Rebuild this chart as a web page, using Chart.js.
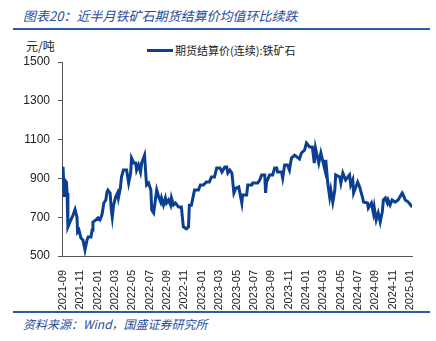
<!DOCTYPE html>
<html><head><meta charset="utf-8">
<script src="https://cdn.jsdelivr.net/npm/chart.js@4"></script>
<style>
html,body{margin:0;padding:0;background:#fff;}
#wrap{position:relative;width:436px;height:341px;overflow:hidden;font-family:"Liberation Sans",Arial,sans-serif;}
.t{position:absolute;white-space:nowrap;}
#title{left:23px;top:6px;font-size:13px;color:#1F4E9A;font-style:italic;font-family:"Noto Sans CJK SC",sans-serif;}
#src{left:23px;top:315px;font-size:12px;color:#1F4E9A;font-style:italic;font-family:"Noto Sans CJK SC",sans-serif;}
.rule{position:absolute;left:13px;width:417px;height:2px;background:#2A5CAA;}
#unit{left:26px;top:37px;font-size:12px;color:#222;font-family:"Noto Sans CJK SC",sans-serif;}
#leg{left:175px;top:42px;font-size:11px;color:#222;font-family:"Noto Sans CJK SC",sans-serif;}
#legline{position:absolute;left:147px;top:49px;width:26px;height:3px;background:#0C3F91;}
canvas{position:absolute;left:0;top:0;}
</style></head>
<body><div id="wrap">
<div class="t" id="title">图表20：近半月铁矿石期货结算价均值环比续跌</div>
<div class="rule" style="top:28px"></div>
<div class="t" id="unit">元/吨</div>
<div id="legline"></div>
<div class="t" id="leg">期货结算价(连续):铁矿石</div>
<div class="rule" style="top:311px"></div>
<div class="t" id="src">资料来源：Wind，国盛证券研究所</div>
<canvas id="c" width="436" height="341"></canvas>
</div>
<script>
const dates = ["2021-09-01","2021-09-03","2021-09-05","2021-09-08","2021-09-13","2021-09-15","2021-09-18","2021-09-25","2021-10-06","2021-10-13","2021-10-20","2021-10-22","2021-10-27","2021-11-03","2021-11-10","2021-11-17","2021-11-24","2021-11-28","2021-12-08","2021-12-12","2021-12-15","2021-12-26",
"2022-01-02","2022-01-09","2022-01-16","2022-01-19","2022-01-23","2022-01-30","2022-02-03","2022-02-06","2022-02-13","2022-02-17","2022-02-20","2022-02-24","2022-03-03","2022-03-10","2022-03-13","2022-03-20","2022-03-24","2022-03-31","2022-04-11","2022-04-18","2022-04-25","2022-04-28","2022-05-06","2022-05-13","2022-05-16","2022-05-23","2022-05-30","2022-06-03","2022-06-13","2022-06-17","2022-06-20","2022-06-27","2022-07-05","2022-07-08","2022-07-15","2022-07-22","2022-07-26","2022-08-02","2022-08-09","2022-08-12","2022-08-19","2022-08-26","2022-08-30","2022-09-06","2022-09-13","2022-09-16","2022-09-23","2022-09-30","2022-10-11","2022-10-21","2022-10-28","2022-11-08","2022-11-15","2022-11-18","2022-11-25","2022-12-06","2022-12-20","2022-12-27",
"2023-01-07","2023-01-17","2023-01-28","2023-02-04","2023-02-14","2023-02-21","2023-03-04","2023-03-11","2023-03-21","2023-03-28","2023-04-01","2023-04-08","2023-04-15","2023-04-22","2023-04-29","2023-05-09","2023-05-20","2023-05-23","2023-06-06","2023-06-10","2023-06-24","2023-06-27","2023-07-15","2023-07-22","2023-07-29","2023-08-09","2023-08-12","2023-08-16","2023-08-19","2023-08-26","2023-09-06","2023-09-13","2023-09-20","2023-09-23","2023-10-07","2023-10-11","2023-10-18","2023-10-28","2023-11-04","2023-11-11","2023-11-22","2023-12-09","2023-12-16","2023-12-27",
"2024-01-03","2024-01-14","2024-01-24","2024-01-31","2024-02-04","2024-02-15","2024-02-22","2024-03-07","2024-03-10","2024-03-17","2024-03-24","2024-03-28","2024-04-04","2024-04-11","2024-04-14","2024-04-28","2024-05-02","2024-05-09","2024-05-19","2024-06-02","2024-06-06","2024-06-13","2024-06-16","2024-06-30","2024-07-07","2024-07-17","2024-07-21","2024-08-04","2024-08-07","2024-08-18","2024-08-25","2024-08-28","2024-09-04","2024-09-11","2024-09-18","2024-09-25","2024-09-29","2024-10-06","2024-10-13","2024-10-16","2024-10-23","2024-10-30","2024-11-10","2024-11-20","2024-12-04","2024-12-08","2024-12-15","2024-12-26","2025-01-09"];
const prices = [960,890,805,890,880,825,650,675,711,740,700,624,634,593,582,531,582,598,598,634,675,686,
696,686,711,737,773,789,830,840,825,737,700,760,804,825,799,850,907,943,943,876,928,1005,979,979,943,969,933,979,1020,928,866,876,840,737,722,799,840,804,778,799,763,799,773,789,763,799,763,773,752,752,650,640,650,762,762,840,840,866,
866,881,881,907,907,954,954,933,959,959,928,943,928,825,850,856,773,815,815,866,866,876,876,892,918,918,825,892,892,918,918,954,954,933,933,902,969,969,943,1005,1020,1000,1031,1046,
1082,1062,1062,979,1057,979,1031,943,995,876,804,840,778,840,918,907,876,928,892,918,866,892,825,881,856,804,778,773,747,773,722,752,686,722,675,727,789,799,773,789,763,789,778,789,825,815,789,778,752];
const yTicks = [500,700,900,1100,1300,1500];
const xTickLabels = ["2021-09","2021-11","2022-01","2022-03","2022-05","2022-07","2022-09","2022-11","2023-01","2023-03","2023-05","2023-07","2023-09","2023-11","2024-01","2024-03","2024-05","2024-07","2024-09","2024-11","2025-01"];

function monthIndex(s){
  const [y,m,d]=s.split("-").map(Number);
  const dim=new Date(y,m,0).getDate();
  return (y-2021)*12+(m-9)+(d-1)/dim;
}
const pts = dates.map((d,i)=>({x:monthIndex(d),y:prices[i]}));

new Chart(document.getElementById('c'),{
  type:'line',
  data:{datasets:[{label:'期货结算价(连续):铁矿石',data:pts,borderColor:'#0C3F91',borderWidth:3,pointRadius:0,tension:0,fill:false}]},
  options:{
    responsive:false,animation:false,
    layout:{padding:{left:0,right:24,top:62,bottom:30}},
    plugins:{legend:{display:false},tooltip:{enabled:false}},
    scales:{
      x:{type:'linear',min:-0.115,max:40.23,
        afterFit:s=>{s.height=55;},
        border:{display:true,color:'#555',width:1},
        grid:{display:false},
        afterBuildTicks:s=>{s.ticks=xTickLabels.map((l,i)=>({value:i*2}));},
        ticks:{autoSkip:false,maxRotation:90,minRotation:90,padding:6,color:'#222',font:{size:11,family:'"Liberation Sans",Arial'},
          callback:(v,i)=>xTickLabels[i]}
      },
      y:{min:500,max:1500,
        afterFit:s=>{s.width=62;},
        afterBuildTicks:s=>{s.ticks=yTicks.map(v=>({value:v}));},
        border:{display:true,color:'#555',width:1},
        grid:{display:true,drawOnChartArea:false,drawTicks:true,tickLength:4,color:'#555'},
        ticks:{padding:8,color:'#222',font:{size:12,family:'"Liberation Sans",Arial'},callback:v=>String(v)}
      }
    }
  }
});
</script>
</body></html>
